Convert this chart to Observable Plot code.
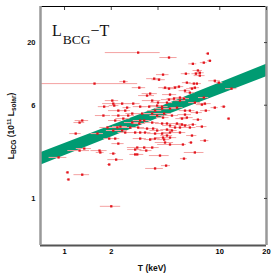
<!DOCTYPE html>
<html><head><meta charset="utf-8">
<script src="https://cdn.jsdelivr.net/npm/d3@7"></script>
<script src="https://cdn.jsdelivr.net/npm/@observablehq/plot@0.6"></script>
<style>body{margin:0;background:#fff} #chart svg{display:block}</style>
</head><body><div id="chart"></div>
<script>
// Temperature (keV)
const T = [1.56,2.98,4.71,2.42,2.03,2.09,1.80,2.46,2.53,1.30,1.25,1.78,2.22,2.73,2.73,1.89,2.19,1.18,1.63,2.35,
0.915,1.25,1.34,1.68,1.70,1.94,2.12,2.22,2.06,2.15,1.94,1.045,1.06,1.30,2.00,2.85,2.85,3.07,3.56,4.38,
4.78,8.01,4.44,4.78,5.79,6.52,2.94,3.26,3.36,2.94,4.12,5.88,6.91,4.51,3.83,8.38,8.63,7.89,6.71,7.23,
7.44,7.02,6.05,4.31,7.44,9.29,9.86,3.78,4.06,6.14,6.81,7.12,3.03,4.44,4.71,5.15,5.46,5.97,6.62,6.91,
11.9,3.56,3.40,4.78,5.54,5.88,6.42,7.89,3.67,4.71,5.07,5.54,6.91,8.01,3.07,3.51,3.95,4.25,4.78,5.30,
6.42,7.12,9.29,10.6,11.4,3.16,3.67,3.95,4.38,4.92,6.14,3.26,3.67,4.25,4.78,5.54,6.42,7.67,3.40,3.95,
4.78,6.62,3.03,3.07,5.71,6.71,7.23,5.97,8.13,7.67,5.15,4.57,4.25,4.31,3.83,3.67,2.06,2.35,2.77,2.22,
2.57,2.12,2.39,3.07,2.29,2.65,2.98,2.06,2.46,2.85,3.30,4.00,4.57,3.83,4.25,5.97,4.31,5.71,4.57,5.30,
5.97,3.72,4.92,5.54,3.83,4.57];
// BCG luminosity (10^11 Lsolar)
const L = [9.09,16.5,15.0,9.44,6.56,5.96,5.84,5.41,5.73,4.47,4.30,4.92,4.92,5.11,4.30,3.91,3.91,3.48,3.48,3.69,
2.20,2.51,2.61,2.51,2.42,3.16,3.16,2.87,2.37,2.11,1.92,1.65,1.44,1.58,0.86,2.56,2.33,3.16,3.10,3.10,
3.22,3.04,2.93,2.82,2.82,2.93,2.66,2.66,2.51,2.33,2.28,2.15,2.42,1.88,1.78,16.2,14.1,13.6,13.3,11.7,
11.2,11.0,11.0,10.8,10.6,9.6,9.26,10.0,9.8,9.26,9.09,9.09,8.41,8.41,8.25,8.41,8.58,7.94,8.25,8.41,
8.25,7.50,7.22,7.36,6.95,6.81,7.64,6.95,6.56,6.68,6.81,6.56,6.31,6.19,5.84,5.84,5.96,5.84,5.62,5.73,
5.41,5.21,5.73,5.84,4.64,5.11,5.11,4.92,5.11,4.92,4.73,4.47,4.30,4.22,4.06,3.91,3.91,3.98,3.83,3.69,
3.55,3.35,4.22,3.55,4.14,4.14,4.55,5.01,5.41,6.07,3.91,3.76,3.48,3.22,3.16,2.66,6.19,6.19,6.19,5.41,
4.92,4.47,4.64,4.47,3.98,3.91,3.91,3.69,3.55,3.55,3.55,6.31,6.31,5.41,5.62,5.41,4.73,4.64,4.22,4.22,
4.06,3.83,3.69,3.55,3.48,3.35];
// Temperature error half-width (keV)
const Terr = [1.4,1.15,0.6,0.15,0.2,0.15,0.15,0.2,0.15,0.13,0.1,0.2,0.2,0.25,0.3,0.2,0.2,0.1,0.15,0.2,
0.12,0.2,0.15,0.2,0.1,0.15,0.15,0.2,0.1,0.25,0.05,0.02,0.02,0.15,0.3,0.3,0.2,0.3,0.3,0.4,
0.5,0.5,0.6,0.8,0.3,0.2,0.4,0.4,0.3,0.3,0.6,0.3,1.0,0.3,0.5,0.2,0.3,0.4,0.4,0.5,
0.5,0.4,0.4,0.4,0.6,0.8,0.6,0.4,0.4,0.4,0.5,0.5,0.3,0.4,0.4,0.4,0.4,0.5,0.5,0.5,
1.0,0.4,0.4,0.5,0.5,0.5,0.5,0.6,0.5,0.5,0.5,0.5,0.6,0.8,0.3,0.4,0.4,0.4,0.5,0.5,
0.5,0.6,0.5,0.4,0.2,0.4,0.4,0.4,0.5,0.5,0.6,0.3,0.4,0.4,0.5,0.6,0.6,0.6,0.4,0.4,
0.5,0.5,0.3,0.3,0.5,0.4,0.5,0.6,0.6,0.6,0.4,0.4,0.5,0.4,0.3,0.4,0.3,0.3,0.3,0.3,
0.25,0.2,0.25,0.3,0.25,0.3,0.3,0.2,0.25,0.3,0.3,0.4,0.4,0.4,0.4,0.5,0.4,0.5,0.4,0.5,
0.5,0.3,0.4,0.5,0.4,0.4];
// Best-fit relation band
const bandT = [0.7, 4, 20];
const bandLo = [1.894, 4.656, 10.37];
const bandHi = [2.406, 5.728, 13.17];
// Axes
const xTicks = [1, 2, 4, 10, 20];
const yTicks = [1, 6, 20];
const xDomain = [0.7, 20];
const yDomain = [0.405, 40];

const data = T.map((t, i) => ({T: t, L: L[i], e: Terr[i]}));
const band = bandT.map((t, i) => ({T: t, lo: bandLo[i], hi: bandHi[i]}));

const plot = Plot.plot({
  width: 274, height: 273,
  marginLeft: 40, marginRight: 8, marginTop: 6, marginBottom: 28,
  style: {fontFamily: "'Liberation Sans', Arial, sans-serif", background: "#fff", overflow: "visible"},
  x: {type: "log", domain: xDomain},
  y: {type: "log", domain: yDomain},
  marks: [
    Plot.areaY(band, {x: "T", y1: "lo", y2: "hi", fill: "#009b72", clip: true}),
    Plot.ruleY(data, {y: "L", x1: d => d.T - d.e, x2: d => d.T + d.e, stroke: "#f4a2a2", strokeWidth: 1, clip: true}),
    Plot.dot(data, {x: "T", y: "L", symbol: "square", r: 1.3, fill: "#e3141c", stroke: null}),
    Plot.ruleY([yDomain[1]], {stroke: "#000", strokeWidth: 1}),
    Plot.ruleY([yDomain[0]], {stroke: "#555", strokeWidth: 2}),
    Plot.ruleX([xDomain[0]], {stroke: "#999", strokeWidth: 2.5}),
    Plot.ruleX([xDomain[1]], {stroke: "#999", strokeWidth: 2.5}),
    Plot.axisX(xTicks, {anchor: "bottom", tickSize: 0, tickPadding: 3, tickFormat: d => String(d), fontSize: 7.5, fontWeight: "bold", label: null}),
    Plot.axisX(xTicks, {anchor: "top", tickSize: 3, dy: 3, tickFormat: () => "", label: null, stroke: "#444"}),
    Plot.text(yTicks, {y: d => d, text: d => String(d), frameAnchor: "left", dx: -5, textAnchor: "end", fontSize: 7.5, fontWeight: "bold", fill: "#111"}),
    Plot.axisY(yTicks, {anchor: "right", tickSize: 3, dx: -3, tickFormat: () => "", label: null, stroke: "#444"})
  ]
});
document.getElementById("chart").appendChild(plot);

const svg = d3.select(plot);
// Title (single text element with subscript)
const tt = svg.append("text").attr("x", 52).attr("y", 36).attr("text-anchor", "start")
  .attr("font-family", "'Liberation Serif', 'DejaVu Serif', serif").attr("font-size", 16).attr("fill", "#111");
tt.append("tspan").text("L");
tt.append("tspan").attr("dx", 1).attr("dy", 8).attr("font-size", 13.5).text("BCG");
tt.append("tspan").attr("dy", -8).text("\u2212T");

// Y label
const yl = svg.append("text")
  .attr("transform", "translate(14,126) rotate(-90)")
  .attr("text-anchor", "middle")
  .attr("font-family", "'Liberation Sans', Arial, sans-serif")
  .attr("font-weight", "bold").attr("font-size", 8.5).attr("fill", "#111");
yl.append("tspan").text("L");
yl.append("tspan").attr("font-size", 6.5).attr("dy", 2).text("BCG");
yl.append("tspan").attr("dy", -2).text(" (10");
yl.append("tspan").attr("font-size", 6).attr("dy", -3).text("11");
yl.append("tspan").attr("dy", 3).text(" L");
yl.append("tspan").attr("font-size", 6.5).attr("dy", 2).text("solar");
yl.append("tspan").attr("dy", -2).text(")");

// X label
svg.append("text").attr("x", 152).attr("y", 271).attr("text-anchor", "middle")
  .attr("font-family", "'Liberation Sans', Arial, sans-serif")
  .attr("font-weight", "bold").attr("font-size", 8.5).attr("fill", "#111").text("T (keV)");
</script>
</body></html>
